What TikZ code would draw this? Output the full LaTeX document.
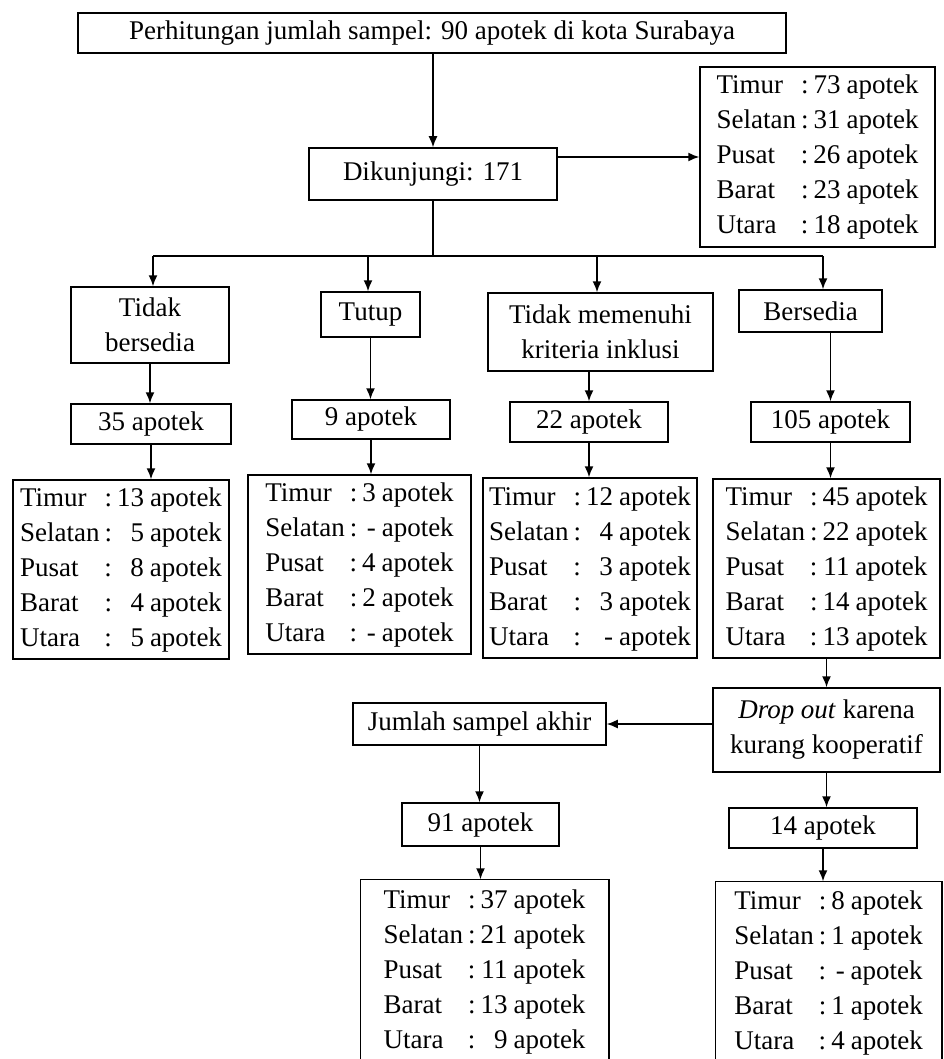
\documentclass[tikz,border=0pt]{standalone}
\usepackage{fontspec}
\setmainfont{Liberation Serif}
\usetikzlibrary{arrows.meta,calc}
\tikzset{
  kotak/.style={draw, line width=1.5pt, inner sep=2pt, align=center, font=\fontsize{27}{35}\selectfont},
  panah/.style={-{Latex[length=11pt,width=9pt]}, line width=1.5pt}
}
\newcommand{\wilayah}[5]{%
\begin{tabular}{@{}l@{\hspace{5pt}:\hspace{5pt}}r@{\hspace{6pt}}l@{}}
Timur & #1 & apotek\\
Selatan & #2 & apotek\\
Pusat & #3 & apotek\\
Barat & #4 & apotek\\
Utara & #5 & apotek
\end{tabular}}
\begin{document}
\begin{tikzpicture}[x=1pt, y=-1pt]
  \useasboundingbox (0,0) rectangle (944,1059);
  \clip (0,0) rectangle (944,1059);
%Sampel dan kunjungan
  \node[kotak, minimum width=708pt, minimum height=40pt] (hitung) at (432,33) {Perhitungan jumlah sampel: 90 apotek di kota Surabaya};
  \node[kotak, minimum width=248pt, minimum height=52pt] (kunjung) at (433,174) {Dikunjungi: 171};
  \node[kotak, minimum width=235pt, minimum height=180pt] (wilTotal) at (817.5,157) {\wilayah{73}{31}{26}{23}{18}};
  \draw[panah] (hitung.south -| kunjung.north) -- (kunjung.north);
  \draw[panah] (kunjung.east |- wilTotal.west) -- (wilTotal.west);
%Empat kelompok
  \node[kotak, minimum width=158pt, minimum height=76pt] (tolak) at (150,325) {Tidak\\bersedia};
  \node[kotak, minimum width=99pt, minimum height=45pt] (tutup) at (370.5,314.5) {Tutup};
  \node[kotak, minimum width=225pt, minimum height=78pt] (kriteria) at (600.5,332) {Tidak memenuhi\\kriteria inklusi};
  \node[kotak, minimum width=143pt, minimum height=42pt] (sedia) at (810.5,311) {Bersedia};
  \coordinate (cab1) at (153,256);
  \coordinate (cab2) at (368,256);
  \coordinate (cab3) at (597,256);
  \coordinate (cab4) at (823,256);
  \draw[line width=1.5pt] (kunjung.south) -- (kunjung.south |- cab1);
  \draw[line width=1.5pt] (cab1) -- (cab4);
  \draw[panah] (cab1) -- (cab1 |- tolak.north);
  \draw[panah] (cab2) -- (cab2 |- tutup.north);
  \draw[panah] (cab3) -- (cab3 |- kriteria.north);
  \draw[panah] (cab4) -- (cab4 |- sedia.north);
%Jumlah apotek
  \node[kotak, minimum width=160pt, minimum height=40pt] (n35) at (151,424) {35 apotek};
  \node[kotak, minimum width=158pt, minimum height=39pt] (n9) at (371,419.5) {9 apotek};
  \node[kotak, minimum width=158pt, minimum height=40pt] (n22) at (589,422) {22 apotek};
  \node[kotak, minimum width=159pt, minimum height=40pt] (n105) at (830.5,422) {105 apotek};
  \draw[panah] (tolak.south) -- (tolak.south |- n35.north);
  \draw[panah] (tutup.south) -- (tutup.south |- n9.north);
  \draw[panah] (n22.north |- kriteria.south) -- (n22.north);
  \draw[panah] (n105.north |- sedia.south) -- (n105.north);
%Rincian wilayah
  \node[kotak, minimum width=216pt, minimum height=177pt] (wil1) at (121,569.5) {\wilayah{13}{5}{8}{4}{5}};
  \node[kotak, minimum width=223pt, minimum height=177pt] (wil2) at (359.5,564.5) {\wilayah{3}{-}{4}{2}{-}};
  \node[kotak, minimum width=214pt, minimum height=180pt] (wil3) at (590,568) {\wilayah{12}{4}{3}{3}{-}};
  \node[kotak, minimum width=227pt, minimum height=179pt] (wil4) at (826.5,568.5) {\wilayah{45}{22}{11}{14}{13}};
  \draw[panah] (n35.south) -- (n35.south |- wil1.north);
  \draw[panah] (n9.south) -- (n9.south |- wil2.north);
  \draw[panah] (n22.south) -- (n22.south |- wil3.north);
  \draw[panah] (n105.south) -- (n105.south |- wil4.north);
%Drop out dan sampel akhir
  \node[kotak, minimum width=227pt, minimum height=84pt] (drop) at (826.5,730) {\textit{Drop out} karena\\kurang kooperatif};
  \node[kotak, minimum width=253pt, minimum height=42pt] (akhir) at (479.5,724) {Jumlah sampel akhir};
  \draw[panah] (wil4.south) -- (wil4.south |- drop.north);
  \draw[panah] (akhir.east -| drop.west) -- (akhir.east);
  \node[kotak, minimum width=157pt, minimum height=43pt] (n91) at (480.5,824.5) {91 apotek};
  \node[kotak, minimum width=188pt, minimum height=40pt] (n14) at (823,828) {14 apotek};
  \draw[panah] (akhir.south) -- (akhir.south |- n91.north);
  \draw[panah] (drop.south) -- (drop.south |- n14.north);
  \node[kotak, draw=none, minimum width=247pt, minimum height=182pt] (wilAkhir) at (484.5,971) {\wilayah{37}{21}{11}{13}{9}};
  \node[kotak, draw=none, minimum width=225pt, minimum height=180pt] (wilDrop) at (828.5,972) {\wilayah{8}{1}{-}{1}{4}};
  \draw[line width=1.5pt] ($(wilAkhir.south west)+(0,30)$) -- (wilAkhir.north west) -- (wilAkhir.north east) -- ($(wilAkhir.south east)+(0,30)$);
  \draw[line width=1.5pt] ($(wilDrop.south west)+(0,30)$) -- (wilDrop.north west) -- (wilDrop.north east) -- ($(wilDrop.south east)+(0,30)$);
  \draw[panah] (n91.south) -- (n91.south |- wilAkhir.north);
  \draw[panah] (n14.south) -- (n14.south |- wilDrop.north);
\end{tikzpicture}
\end{document}
